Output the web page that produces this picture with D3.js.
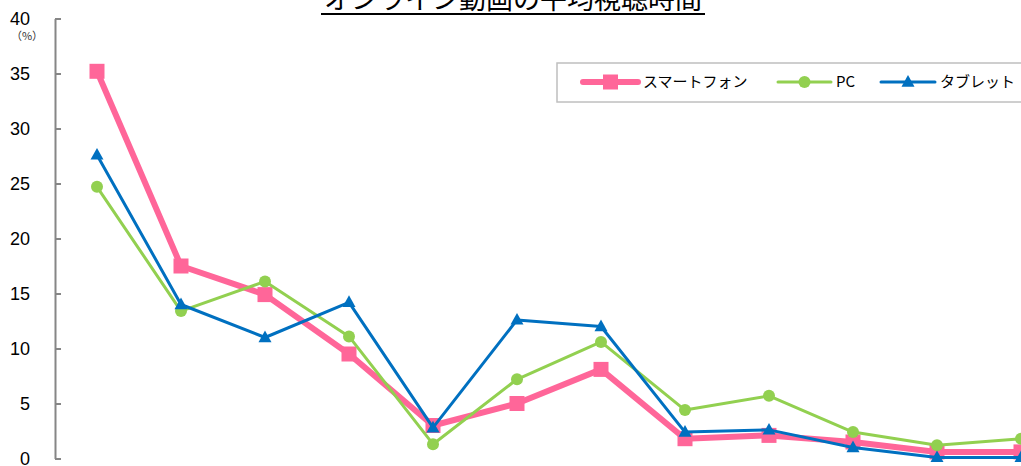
<!DOCTYPE html>
<html>
<head>
<meta charset="utf-8">
<script src="https://cdn.jsdelivr.net/npm/d3@7"></script>
<style>
	body { margin: 0; background: #fff; overflow: hidden; }
	svg { display: block; }
</style>
</head>
<body>
<div id="chart"></div>
<script>
// categories are cut off below the picture, only their order matters
var categories = ["1", "2", "3", "4", "5", "6", "7", "8", "9", "10", "11", "12"];
var smartphone = [35.2, 17.5, 14.9, 9.5, 3.0, 5.0, 8.1, 1.8, 2.1, 1.5, 0.6, 0.6];
var pc = [24.7, 13.4, 16.1, 11.1, 1.3, 7.2, 10.6, 4.4, 5.7, 2.4, 1.2, 1.8];
var tablet = [27.6, 14.0, 11.0, 14.2, 2.8, 12.6, 12.0, 2.4, 2.6, 1.0, 0.1, 0.1];
var yTicks = [0, 5, 10, 15, 20, 25, 30, 35, 40];
var seriesNames = ["スマートフォン", "PC", "タブレット"];

var W = 1021, H = 466;
var jp = "'Noto Sans CJK JP', 'Noto Sans', sans-serif";
var num = "'Liberation Sans', 'DejaVu Sans', sans-serif";

var svg = d3.select("#chart").append("svg")
	.attr("width", W)
	.attr("height", H);

var x = d3.scaleBand().domain(categories).range([55, 1063]).padding(0);
var y = d3.scaleLinear().domain([0, 40]).range([458.5, 18.5]);

// y axis
var yAxis = svg.append("g")
	.attr("transform", "translate(55,0)")
	.call(d3.axisLeft(y).tickValues(yTicks).tickSizeInner(-6).tickSizeOuter(0).tickPadding(25));
yAxis.select(".domain").attr("stroke", "#868686").attr("stroke-width", 2);
yAxis.selectAll(".tick line").attr("stroke", "#868686").attr("stroke-width", 2);
yAxis.selectAll(".tick text")
	.attr("fill", "#000")
	.style("font-family", num)
	.style("font-size", "18px");

svg.append("text")
	.attr("x", 27).attr("y", 40)
	.attr("text-anchor", "middle")
	.style("font-family", jp)
	.style("font-size", "11px")
	.attr("fill", "#333")
	.text("（%）");

// title, cut off at the top
var title = svg.append("text")
	.attr("x", 513).attr("y", 9)
	.attr("text-anchor", "middle")
	.style("font-family", jp)
	.style("font-size", "27px")
	.attr("fill", "#000")
	.text("オンライン動画の平均視聴時間");
svg.append("line")
	.attr("x1", 321).attr("x2", 705)
	.attr("y1", 14).attr("y2", 14)
	.attr("stroke", "#000").attr("stroke-width", 2);

var series = [
	{ name: seriesNames[0], values: smartphone, color: "#ff6699", width: 6, marker: "square", size: 15 },
	{ name: seriesNames[1], values: pc, color: "#92d050", width: 3, marker: "circle", size: 12 },
	{ name: seriesNames[2], values: tablet, color: "#0070c0", width: 3, marker: "triangle", size: 13 }
];

var cx = function(i) { return x(categories[i]) + x.bandwidth() / 2; };
var line = d3.line()
	.x(function(d, i) { return cx(i); })
	.y(function(d) { return y(d); });

function drawMarker(g, s, px, py) {
	if(s.marker == "square") {
		g.append("rect")
			.attr("x", px - s.size / 2).attr("y", py - s.size / 2)
			.attr("width", s.size).attr("height", s.size)
			.attr("fill", s.color);
	} else if(s.marker == "circle") {
		g.append("circle")
			.attr("cx", px).attr("cy", py).attr("r", s.size / 2)
			.attr("fill", s.color);
	} else {
		var h = s.size * 0.9;
		g.append("path")
			.attr("d", "M" + px + "," + (py - h * 0.6) + "L" + (px + s.size / 2) + "," + (py + h * 0.4) + "L" + (px - s.size / 2) + "," + (py + h * 0.4) + "Z")
			.attr("fill", s.color);
	}
}

// draw order: pink at the back, then green, then blue
series.forEach(function(s) {
	var g = svg.append("g");
	g.append("path")
		.attr("d", line(s.values))
		.attr("fill", "none")
		.attr("stroke", s.color)
		.attr("stroke-width", s.width)
		.attr("stroke-linejoin", "round");
	s.values.forEach(function(v, i) {
		drawMarker(g, s, cx(i), y(v));
	});
});

// legend
var legend = svg.append("g");
legend.append("rect")
	.attr("x", 557).attr("y", 63)
	.attr("width", 500).attr("height", 39)
	.attr("fill", "#fff")
	.attr("stroke", "#bfbfbf")
	.attr("stroke-width", 1.5);

var legendPos = [
	{ x1: 583, x2: 638, tx: 643 },
	{ x1: 778, x2: 831, tx: 836 },
	{ x1: 881, x2: 935, tx: 940 }
];
series.forEach(function(s, i) {
	var p = legendPos[i];
	var ly = 82;
	legend.append("line")
		.attr("x1", p.x1).attr("x2", p.x2)
		.attr("y1", ly).attr("y2", ly)
		.attr("stroke", s.color)
		.attr("stroke-width", s.width)
		.attr("stroke-linecap", "round");
	drawMarker(legend, s, (p.x1 + p.x2) / 2, ly);
	legend.append("text")
		.attr("x", p.tx).attr("y", ly + 5)
		.style("font-family", jp)
		.style("font-size", "15px")
		.attr("fill", "#000")
		.text(s.name);
});
</script>
</body>
</html>
